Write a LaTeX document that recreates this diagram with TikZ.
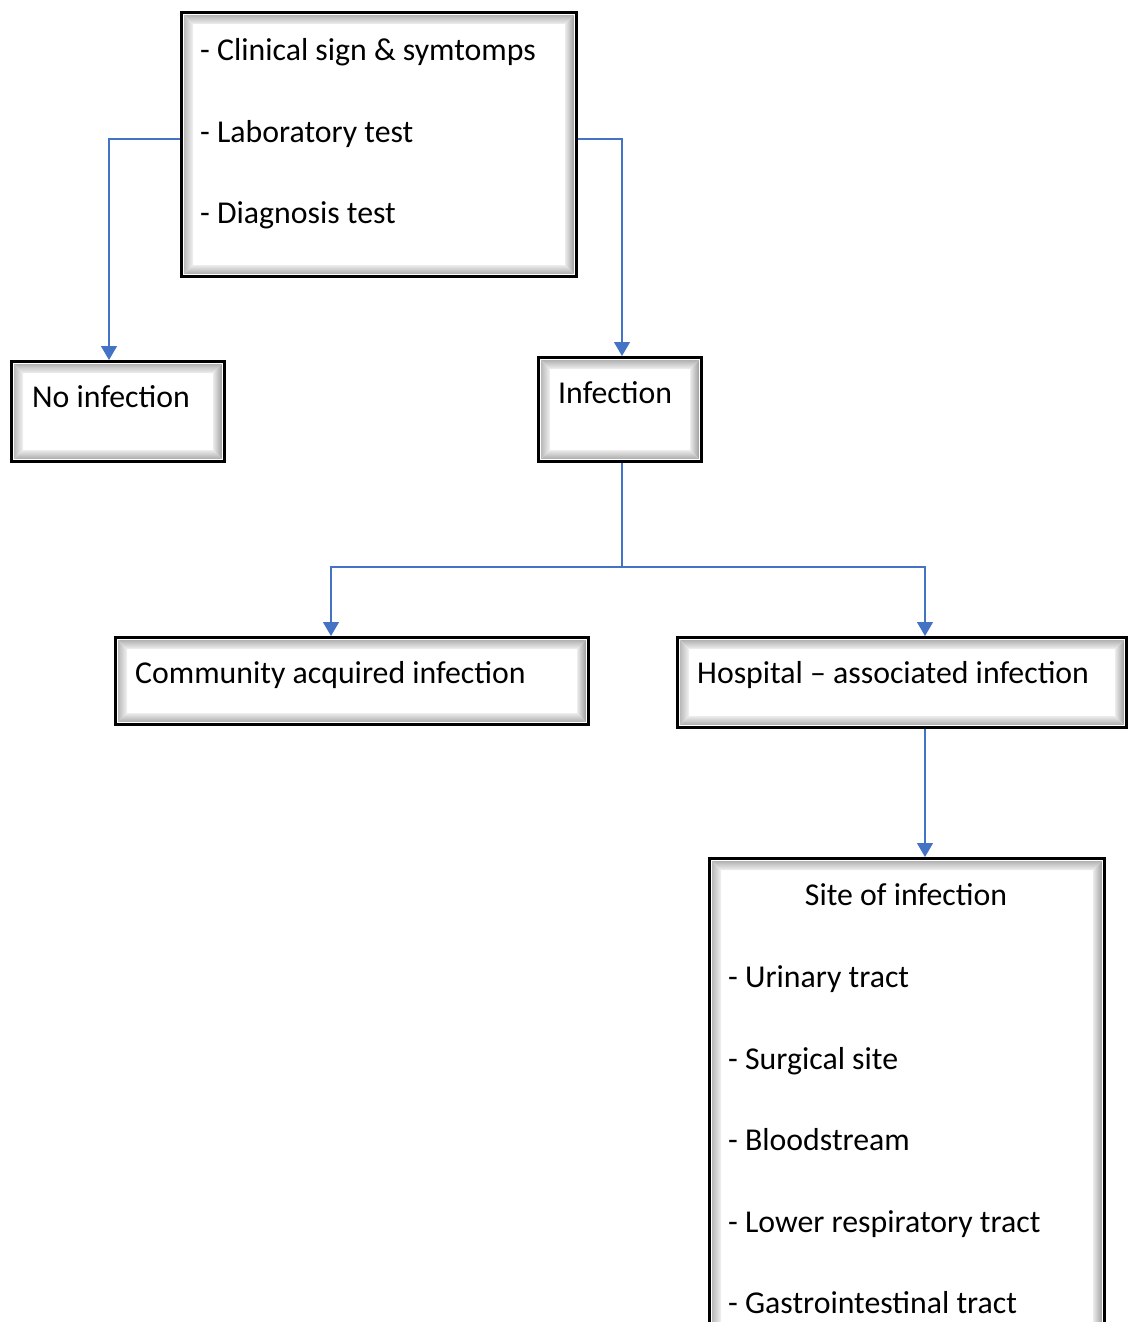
\documentclass[tikz,border=0pt]{standalone}
\usepackage{fontspec}
\setmainfont{Carlito}
\usetikzlibrary{arrows.meta,calc}
\definecolor{linkblue}{HTML}{4472C4}
\tikzset{
  bevelbox/.style={rectangle, inner sep=0pt, outer sep=0pt,
    path picture={
      \coordinate (bA) at (path picture bounding box.north west);
      \coordinate (bB) at (path picture bounding box.south east);
      \coordinate (onw) at ($(bA)+(4,4)$);
      \coordinate (ose) at ($(bB)+(-4,-4)$);
      \coordinate (inw) at ($(bA)+(13,13)$);
      \coordinate (ise) at ($(bB)+(-13,-13)$);
      \coordinate (one) at (ose |- onw);
      \coordinate (osw) at (onw |- ose);
      \coordinate (ine) at (ise |- inw);
      \coordinate (isw) at (inw |- ise);
      \fill[white] (bA) rectangle (bB);
      \shade[top color=gray!60, bottom color=gray!12] (onw) -- (one) -- (ine) -- (inw) -- cycle;
      \shade[left color=gray!55, right color=gray!10] (onw) -- (inw) -- (isw) -- (osw) -- cycle;
      \shade[left color=gray!15, right color=gray!75] (one) -- (ine) -- (ise) -- (ose) -- cycle;
      \shade[top color=gray!15, bottom color=gray!65] (osw) -- (isw) -- (ise) -- (ose) -- cycle;
      \draw[line width=1pt, white] ($(bA)+(3.5,3.5)$) rectangle ($(bB)+(-3.5,-3.5)$);
      \draw[line width=3pt, black] ($(bA)+(1.5,1.5)$) rectangle ($(bB)+(-1.5,-1.5)$);
    }},
  label/.style={anchor=base west, inner sep=0pt, font=\fontsize{31.8}{36}\selectfont},
  conn/.style={draw=linkblue, line width=1.2pt, -{Triangle[width=16pt,length=14pt]}, fill=none},
  wire/.style={draw=linkblue, line width=1.2pt}
}
\begin{document}
\begin{tikzpicture}[x=1pt, y=-1pt]
\useasboundingbox (0,0) rectangle (1135,1322);
\clip (0,0) rectangle (1135,1322);
\fill[white] (0,0) rectangle (1135,1322);

% boxes
\node[bevelbox, minimum width=398pt, minimum height=267pt] (top) at (379,144.5) {};
\node[bevelbox, minimum width=216pt, minimum height=103pt] (noinf) at (118,411.5) {};
\node[bevelbox, minimum width=166pt, minimum height=107pt] (inf) at (620,409.5) {};
\node[bevelbox, minimum width=476pt, minimum height=90pt] (comm) at (352,681) {};
\node[bevelbox, minimum width=452pt, minimum height=93pt] (hosp) at (902,682.5) {};
\node[bevelbox, minimum width=398pt, minimum height=500pt] (site) at (907,1107) {};

% texts
\node[label] (t1) at (200,60) {- Clinical sign \& symtomps};
\node[label] (t2) at (200,142) {- Laboratory test};
\node[label] (t3) at (200,223) {- Diagnosis test};
\node[label] (tno) at (32,407) {No infection};
\node[label] (tinf) at (558,403) {Infection};
\node[label] (tcomm) at (135,683) {Community acquired infection};
\node[label] (thosp) at (697,683) {Hospital – associated infection};
\node[label, anchor=base] (tsite) at (906,905) {Site of infection};
\node[label] (s1) at (728,987) {- Urinary tract};
\node[label] (s2) at (728,1069) {- Surgical site};
\node[label] (s3) at (728,1150) {- Bloodstream};
\node[label] (s4) at (728,1232) {- Lower respiratory tract};
\node[label] (s5) at (728,1313) {- Gastrointestinal tract};

% connectors
\draw[conn] ([yshift=5.5pt]top.west) -| ([xshift=-9pt]noinf.north);
\draw[conn] ([yshift=5.5pt]top.east) -| ([xshift=2pt]inf.north);
\draw[wire] ([xshift=2pt]inf.south) -- ++(0,104) coordinate (split);
\draw[conn] (split) -| ([xshift=-21pt]comm.north);
\draw[conn] (split) -| ([xshift=23pt]hosp.north);
\draw[conn] ([xshift=23pt]hosp.south) -- ([xshift=18pt]site.north);
\end{tikzpicture}
\end{document}
